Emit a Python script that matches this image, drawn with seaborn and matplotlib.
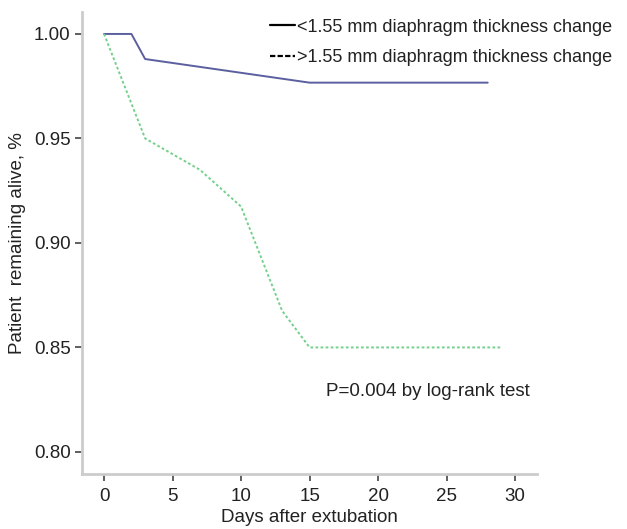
import numpy as np
import pandas as pd
import matplotlib
matplotlib.use("Agg")
import matplotlib.pyplot as plt
import seaborn as sns
from matplotlib.lines import Line2D

# lecture des courbes sur l'image
days_low = [0, 2, 3, 15, 28]
surv_low = [1.0, 1.0, 0.988, 0.9767, 0.9767]
days_high = [0, 3, 7, 10, 13, 15, 29]
surv_high = [1.0, 0.95, 0.935, 0.9174, 0.8675, 0.85, 0.85]

labels = ["<1.55 mm diaphragm thickness change", ">1.55 mm diaphragm thickness change"]
x_ticks = [0, 5, 10, 15, 20, 25, 30]
y_ticks = [0.80, 0.85, 0.90, 0.95, 1.00]

sns.set_style("ticks")
plt.rcParams['font.family'] = ['Liberation Sans', 'DejaVu Sans']

df_low = pd.DataFrame({"day": days_low, "surv": surv_low})
df_high = pd.DataFrame({"day": days_high, "surv": surv_high})

fig = plt.figure(figsize=(6.27, 5.29), dpi=100)
ax = fig.add_axes([0.1303, 0.1034, 0.7262, 0.8739])

sns.lineplot(data=df_low, x="day", y="surv", color="#5c5f9f", linewidth=1.4, ax=ax)
sns.lineplot(data=df_high, x="day", y="surv", color="#74d18c", linewidth=1.4, ax=ax,
             linestyle=(0, (1.4, 1.2)))

ax.set_xlim(-1.63, 31.6)
ax.set_ylim(0.7893, 1.0105)
ax.set_xticks(x_ticks)
ax.set_yticks(y_ticks)
ax.set_yticklabels([f"{v:.2f}" for v in y_ticks])

for s in ["top", "right"]:
    ax.spines[s].set_visible(False)
for s in ["left", "bottom"]:
    ax.spines[s].set_color("#cccccc")
    ax.spines[s].set_linewidth(2)
ax.tick_params(axis="both", length=5, width=1.2, color="#444444", labelsize=13.5,
               labelcolor="#222222", pad=3)
ax.tick_params(axis="x", pad=5)

ax.set_xlabel("Days after extubation", fontsize=13.5, color="#222222", labelpad=3)
ax.set_ylabel("Patient  remaining alive, %", fontsize=13.5, color="#222222", labelpad=6)

handles = [Line2D([], [], color="black", lw=1.6, linestyle="-"),
           Line2D([], [], color="black", lw=1.6, linestyle=(0, (2.4, 1)))]
leg = ax.legend(handles, labels, loc="upper right", bbox_to_anchor=(0.993, 0.985),
                bbox_transform=fig.transFigure, frameon=False, fontsize=13,
                handlelength=1.4, handletextpad=0.1, labelspacing=0.75,
                borderaxespad=0.2)
for t in leg.get_texts():
    t.set_color("#222222")

ax.text(31.1, 0.829, "P=0.004 by log-rank test", ha="right", va="center",
        fontsize=13.5, color="#222222")

fig.savefig("out.png", dpi=100)
